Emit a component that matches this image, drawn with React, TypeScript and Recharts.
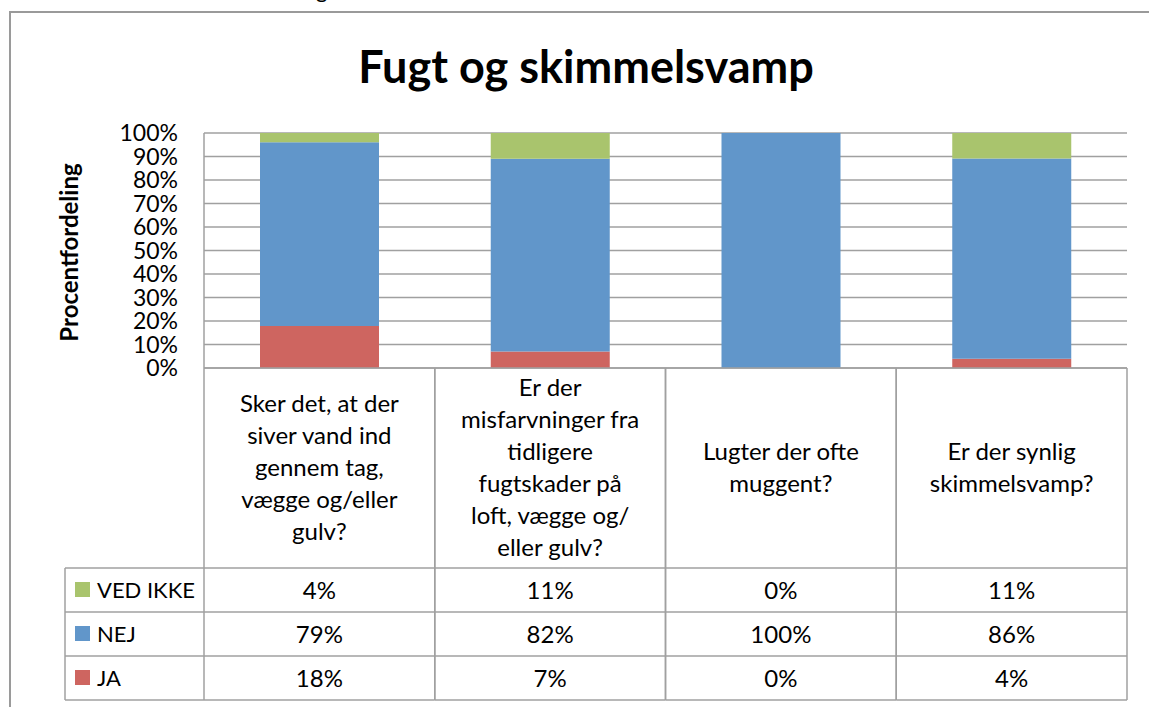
import React from 'react';
import { BarChart, Bar, XAxis, YAxis, CartesianGrid } from 'recharts';

const categories = [
  'Sker det, at der\nsiver vand ind\ngennem tag,\nvægge og/eller\ngulv?',
  'Er der\nmisfarvninger fra\ntidligere\nfugtskader på\nloft, vægge og/\neller gulv?',
  'Lugter der ofte\nmuggent?',
  'Er der synlig\nskimmelsvamp?',
];
const jaValues = [18, 7, 0, 4];
const nejValues = [79, 82, 100, 86];
const vedIkkeValues = [4, 11, 0, 11];
const yTicks = [0, 0.1, 0.2, 0.3, 0.4, 0.5, 0.6, 0.7, 0.8, 0.9, 1];

// table rows, top to bottom as in the original
const seriesRows = [
  { key: 'vedIkke', name: 'VED IKKE', color: '#A9C46D', values: vedIkkeValues },
  { key: 'nej', name: 'NEJ', color: '#6196CA', values: nejValues },
  { key: 'ja', name: 'JA', color: '#CE6560', values: jaValues },
];

const data = categories.map((label, i) => ({
  label,
  ja: jaValues[i],
  nej: nejValues[i],
  vedIkke: vedIkkeValues[i],
}));

const FONT = 'Lato, "Open Sans", sans-serif';
const GRID = '#A0A0A0';
const W = 1149;
const H = 707;
const CHART_W = 1129;
const PLOT_LEFT = 204;
const PLOT_RIGHT = 1127;
const BAND = (PLOT_RIGHT - PLOT_LEFT) / categories.length;
const LABEL_H = 200;
const ROW_H = 44;
const LEGEND_LEFT = 65;

function TableTick(props: any) {
  const { x, y, payload } = props;
  const i = payload.index;
  const left = x - BAND / 2;
  const right = x + BAND / 2;
  const lines = String(payload.value).split('\n');
  const lineH = 32;
  const firstBase = y + LABEL_H / 2 - (lines.length * lineH) / 2 + 24;
  const tableTop = y + LABEL_H;
  const tableBottom = tableTop + ROW_H * seriesRows.length;

  return (
    <g>
      <line x1={left} y1={y} x2={left} y2={tableBottom} stroke={GRID} strokeWidth={1.5} />
      <line x1={right} y1={y} x2={right} y2={tableBottom} stroke={GRID} strokeWidth={1.5} />
      {lines.map((ln, k) => (
        <text key={k} x={x} y={firstBase + k * lineH} textAnchor="middle" fontSize={24} fontFamily={FONT} fill="#000">
          {ln}
        </text>
      ))}
      {seriesRows.map((s, r) => (
        <g key={s.key}>
          <line x1={left} y1={tableTop + r * ROW_H} x2={right} y2={tableTop + r * ROW_H} stroke={GRID} strokeWidth={1.5} />
          <text x={x} y={tableTop + r * ROW_H + ROW_H / 2 + 9} textAnchor="middle" fontSize={24} fontFamily={FONT} fill="#000">
            {s.values[i]}%
          </text>
        </g>
      ))}
      <line x1={left} y1={tableBottom} x2={right} y2={tableBottom} stroke={GRID} strokeWidth={1.5} />
      {i === 0 && (
        <g>
          <line x1={LEGEND_LEFT} y1={tableTop} x2={LEGEND_LEFT} y2={tableBottom} stroke={GRID} strokeWidth={1.5} />
          {seriesRows.map((s, r) => (
            <g key={s.key}>
              <line x1={LEGEND_LEFT} y1={tableTop + r * ROW_H} x2={left} y2={tableTop + r * ROW_H} stroke={GRID} strokeWidth={1.5} />
              <rect x={LEGEND_LEFT + 10} y={tableTop + r * ROW_H + 14} width={15} height={15} fill={s.color} />
              <text x={LEGEND_LEFT + 32} y={tableTop + r * ROW_H + ROW_H / 2 + 8} fontSize={22} fontFamily={FONT} fill="#000">
                {s.name}
              </text>
            </g>
          ))}
          <line x1={LEGEND_LEFT} y1={tableBottom} x2={left} y2={tableBottom} stroke={GRID} strokeWidth={1.5} />
        </g>
      )}
    </g>
  );
}

function YTitle(props: any) {
  const { viewBox } = props;
  const cx = viewBox.x + 68;
  const cy = viewBox.y + viewBox.height / 2 + 2;
  return (
    <text
      x={cx}
      y={cy}
      transform={`rotate(-90, ${cx}, ${cy})`}
      textAnchor="middle"
      dominantBaseline="central"
      fontSize={24}
      fontWeight={700}
      fontFamily={FONT}
      fill="#000"
    >
      Procentfordeling
    </text>
  );
}

export default function App() {
  return (
    <div style={{ position: 'absolute', left: 0, top: 0, width: W, height: H, overflow: 'hidden', background: '#fff', fontFamily: FONT }}>
      <style>{'html, body { margin: 0; overflow: hidden; }'}</style>
      <svg style={{ position: 'absolute', left: 0, top: 0 }} width={W} height={20}>
        <text x={316} y={-2} fontSize={22} fontFamily={FONT} fill="#000">g</text>
      </svg>
      <div
        style={{
          position: 'absolute',
          left: 0,
          top: 39,
          width: 1172,
          textAlign: 'center',
          fontSize: 45,
          fontWeight: 700,
          color: '#000',
          fontFamily: FONT,
        }}
      >
        Fugt og skimmelsvamp
      </div>
      <div style={{ position: 'absolute', left: 0, top: 0 }}>
        <BarChart
          width={CHART_W}
          height={H}
          data={data}
          stackOffset="expand"
          margin={{ top: 133, right: CHART_W - PLOT_RIGHT, bottom: 7, left: 0 }}
        >
          <CartesianGrid vertical={false} stroke={GRID} strokeWidth={1.5} />
          <XAxis
            dataKey="label"
            height={H - 7 - 368}
            tickLine={false}
            tickSize={0}
            tickMargin={0}
            axisLine={{ stroke: GRID, strokeWidth: 1.5 }}
            interval={0}
            tick={<TableTick />}
          />
          <YAxis
            width={PLOT_LEFT}
            domain={[0, 1]}
            ticks={yTicks}
            interval={0}
            tickFormatter={(v: number) => `${Math.round(v * 100)}%`}
            tickLine={false}
            tickSize={6}
            tickMargin={20}
            axisLine={{ stroke: GRID, strokeWidth: 1.5 }}
            tick={{ fill: '#000', fontSize: 23, fontFamily: FONT }}
            label={<YTitle />}
          />
          {[...seriesRows].reverse().map((s) => (
            <Bar key={s.key} dataKey={s.key} name={s.name} stackId="a" fill={s.color} barSize={119} isAnimationActive={false} />
          ))}
        </BarChart>
      </div>
      {/* keep the strip right of the table clean */}
      <div style={{ position: 'absolute', left: 1129, top: 13, width: 20, height: H - 13, background: '#fff', zIndex: 5 }} />
      {/* chart frame: only top and left edges fall inside the crop */}
      <div style={{ position: 'absolute', left: 9, top: 11, width: W - 9, height: 1.5, background: '#9A9A9A', zIndex: 6 }} />
      <div style={{ position: 'absolute', left: 9, top: 11, width: 1.5, height: H - 11, background: '#9A9A9A', zIndex: 6 }} />
    </div>
  );
}
